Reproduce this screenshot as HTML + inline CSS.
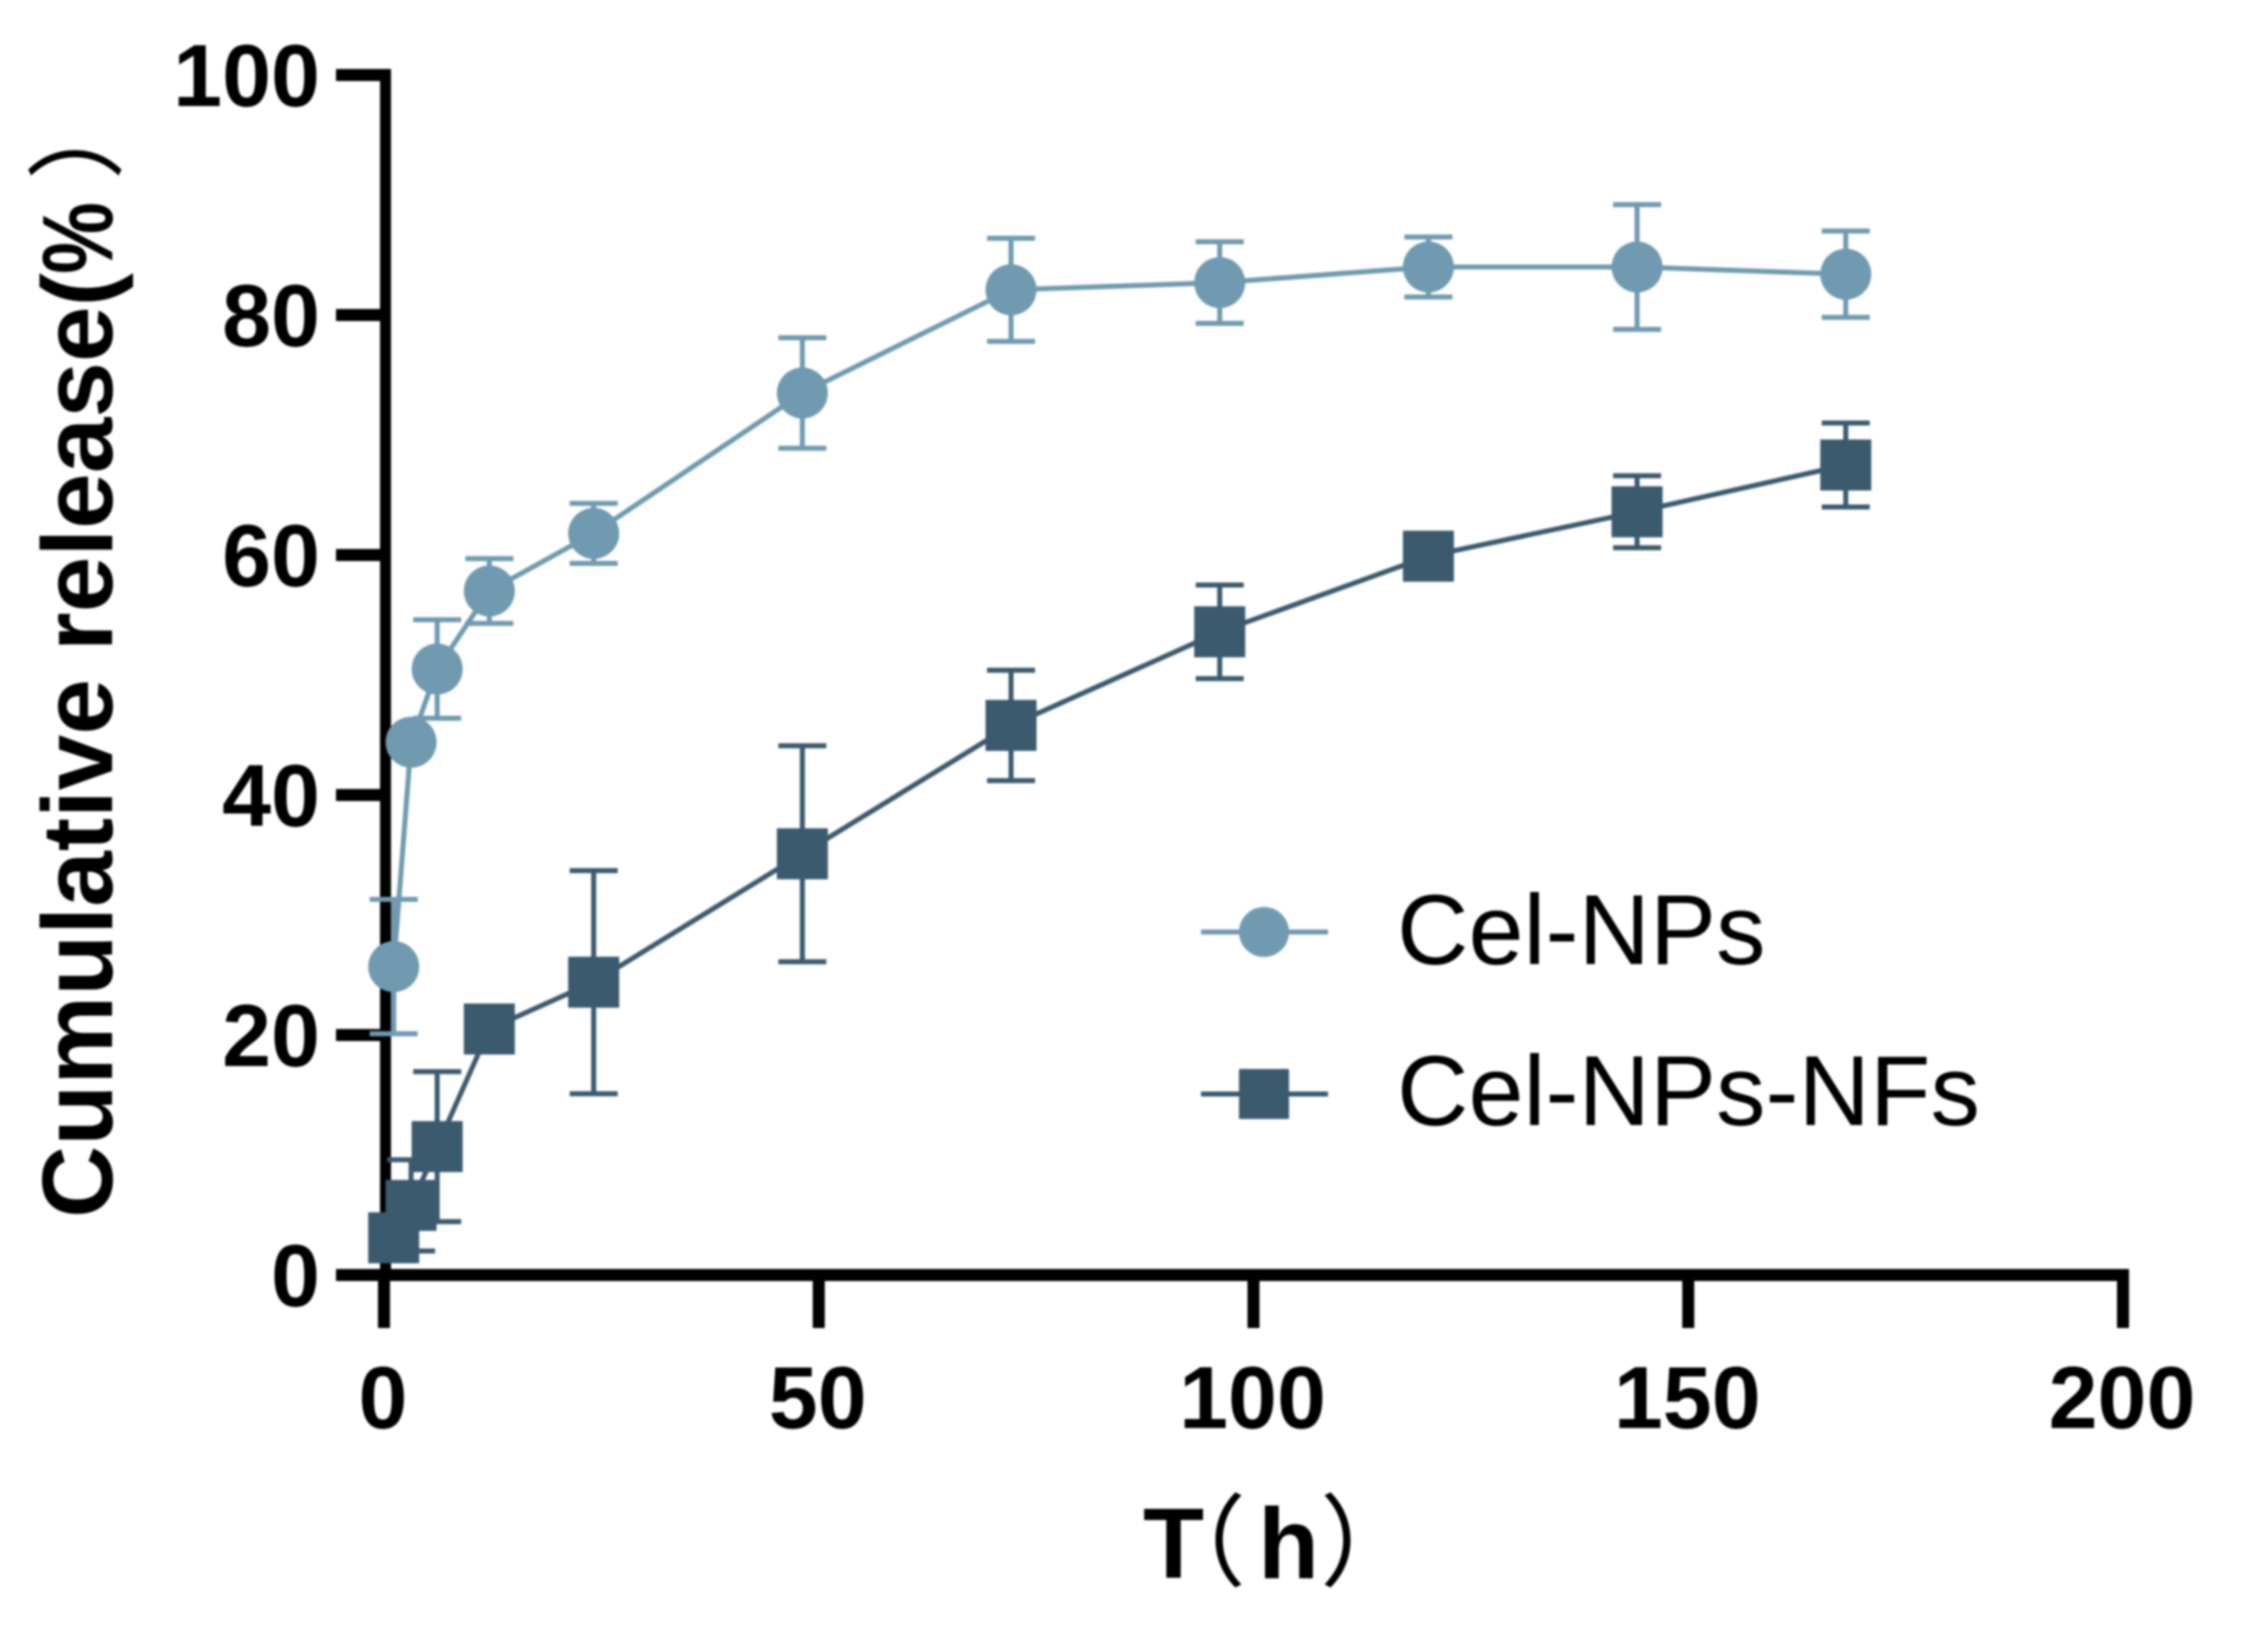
<!DOCTYPE html>
<html>
<head>
<meta charset="utf-8">
<title>Cumulative release chart</title>
<style>
html,body{margin:0;padding:0;background:#fff;width:2244px;height:1628px;overflow:hidden}
svg{display:block;filter:blur(1px)}
text{font-family:"Liberation Sans","Noto Sans CJK SC",sans-serif;fill:#000}
</style>
</head>
<body>
<svg id="chart" width="2244" height="1628" viewBox="0 0 2244 1628" xmlns="http://www.w3.org/2000/svg">
  <g transform="translate(112 1218) rotate(-90)">
    <text x="0" y="0" font-size="100" font-weight="700">Cumulative release(</text>
    <text x="944" y="0" font-size="100" font-weight="700" textLength="72" lengthAdjust="spacingAndGlyphs">%</text>
    <text x="1038" y="0" font-size="98" font-weight="400">）</text>
  </g>
  <text y="1578" font-size="100" font-weight="700"><tspan x="1143">T</tspan><tspan x="1146" font-weight="400">（</tspan><tspan x="1258">h</tspan><tspan x="1320" font-weight="400">）</tspan></text>
  <g id="axes"></g>
  <g id="series"></g>
  <g>
    <g>
      <line x1="1208" x2="1335" y1="936" y2="936" stroke="#6f9ab0" stroke-width="5" transform="translate(-7 -4)"/>
      <circle cx="1270" cy="932" r="25" fill="#6f9ab0" transform="translate(-6 0)"/>
      <text x="1397" y="964" font-size="99">Cel-NPs</text>
    </g>
    <g>
      <line x1="1208" x2="1335" y1="1098" y2="1098" stroke="#3b5a6e" stroke-width="5" transform="translate(-7 -4)"/>
      <rect x="1239" y="1069" width="50" height="50" fill="#3b5a6e"/>
      <text x="1397" y="1125" font-size="99">Cel-NPs-NFs</text>
    </g>
  </g>
</svg>
<script>
const times = [1, 3, 6, 12, 24, 48, 72, 96, 120, 144, 168];
const celNps = [25.7, 44.4, 50.5, 57.0, 61.8, 73.5, 82.1, 82.7, 84.0, 84.0, 83.4];
const celNpsErr = [5.6, 0, 4.1, 2.7, 2.5, 4.6, 4.3, 3.4, 2.5, 5.2, 3.6];
const celNpsNfs = [3.1, 5.8, 10.7, 20.5, 24.4, 35.1, 45.8, 53.6, 59.9, 63.6, 67.5];
const celNpsNfsErr = [1.2, 3.8, 6.25, 0, 9.3, 9.0, 4.6, 3.9, 0, 3.0, 3.5];
const xTicks = [0, 50, 100, 150, 200];
const yTicks = [0, 20, 40, 60, 80, 100];

const NS = 'http://www.w3.org/2000/svg';
const xScale = t => 384 + (t / 200) * 1739 + 1;
const xTickScale = t => 384 + (t / 200) * 1739;
const yScale = v => 1275 - (v / 100) * 1200;
const axes = document.getElementById('axes');
const seriesGroup = document.getElementById('series');

function make(tag, parent, props) {
  const el = document.createElementNS(NS, tag);
  for (const k in props) el.setAttribute(k, props[k]);
  parent.appendChild(el);
  return el;
}

const yLine = make('rect', axes, { x: 380, y: yScale(100) - 6, width: 11, height: 1206, fill: '#000' });


const xLine = make('rect', axes, { x: 336, y: yScale(0) - 6, width: xTickScale(200) + 6 - 336, height: 12, fill: '#000' });



yTicks.forEach(v => {
  const tick = make('rect', axes, { x: 336, y: yScale(v) - 6, width: 50, height: 12, fill: '#000' });
  
  
  const label = make('text', axes, { x: 320, y: yScale(v) + 31, 'text-anchor': 'end', 'font-size': 88, 'font-weight': 700 });
  label.textContent = v;
  
  
});

xTicks.forEach(t => {
  const tick = make('rect', axes, { x: xTickScale(t) - 6, y: yScale(0), width: 12, height: 53, fill: '#000' });
  
  
  const label = make('text', axes, { x: xTickScale(t) - 1, y: 1428, 'text-anchor': 'middle', 'font-size': 88, 'font-weight': 700 });
  label.textContent = t;
  
  
});

function drawSeries(values, errors, color, shape, name) {
  const g = make('g', seriesGroup, {});
  
  
  values.forEach((v, i) => {
    const e = errors[i];
    if (e > 0) {
      const x = xScale(times[i]);
      const bar = make('path', g, {
        d: 'M' + (x - 24) + ' ' + yScale(v + e) + 'H' + (x + 24) +
           'M' + (x - 24) + ' ' + yScale(v - e) + 'H' + (x + 24) +
           'M' + x + ' ' + yScale(v + e) + 'V' + yScale(v - e),
        stroke: color, 'stroke-width': 5, fill: 'none'
      });
      
      
    }
  });
  const pts = values.map((v, i) => xScale(times[i]) + ',' + yScale(v)).join(' ');
  const line = make('polyline', g, { points: pts, stroke: color, 'stroke-width': 5, fill: 'none' });
  
  
  values.forEach((v, i) => {
    const x = xScale(times[i]);
    const y = yScale(v);
    const m = shape === 'circle'
      ? make('circle', g, { cx: x, cy: y, r: 25.5, fill: color })
      : make('rect', g, { x: x - 25.5, y: y - 25.5, width: 51, height: 51, fill: color });
    
    
  });
}

drawSeries(celNps, celNpsErr, '#6f9ab0', 'circle', 'cel-nps');
drawSeries(celNpsNfs, celNpsNfsErr, '#3b5a6e', 'square', 'cel-nps-nfs');
</script>
</body>
</html>
